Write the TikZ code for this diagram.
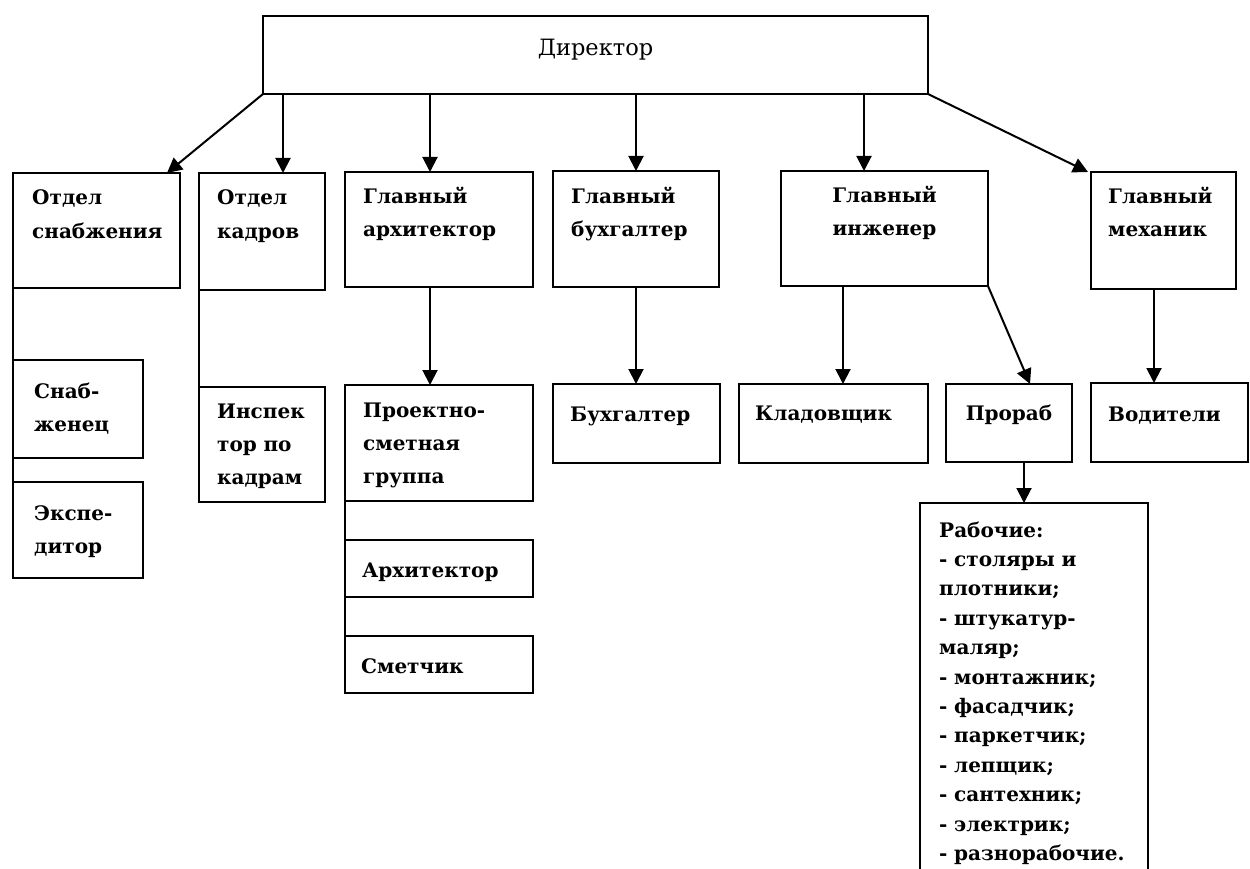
\documentclass[tikz,border=0pt]{standalone}
\usepackage{fontspec}
\setmainfont{DejaVu Serif}
\usetikzlibrary{arrows.meta}
\begin{document}
\begin{tikzpicture}[x=1pt,y=-1pt,
  box/.style={draw, line width=2.5pt, anchor=north west, inner sep=0pt, outer sep=0pt},
  arr/.style={line width=2pt, -{Triangle[length=15pt,width=15pt]}},
  ln/.style={line width=2.4pt},
  lbl/.style={anchor=base west, inner sep=0pt, align=left, text width=260pt, font=\fontsize{20}{33}\selectfont\bfseries},
  clbl/.style={anchor=base, inner sep=0pt, align=center, text width=200pt, font=\fontsize{20}{33}\selectfont\bfseries},
]
\useasboundingbox[fill=white] (0,0) rectangle (1250,869);

% boxes
\node[box, minimum width=665pt, minimum height=78pt] (dir) at (263,16) {};
\node[box, minimum width=167pt, minimum height=115pt] (snab) at (13,173) {};
\node[box, minimum width=126pt, minimum height=117pt] (kadr) at (199,173) {};
\node[box, minimum width=188pt, minimum height=115pt] (arch) at (345,172) {};
\node[box, minimum width=166pt, minimum height=116pt] (buh) at (553,171) {};
\node[box, minimum width=207pt, minimum height=115pt] (inzh) at (781,171) {};
\node[box, minimum width=145pt, minimum height=117pt] (mech) at (1091,172) {};

\node[box, minimum width=130pt, minimum height=98pt] (snabzh) at (13,360) {};
\node[box, minimum width=130pt, minimum height=96pt] (exped) at (13,482) {};
\node[box, minimum width=126pt, minimum height=115pt] (insp) at (199,387) {};
\node[box, minimum width=188pt, minimum height=116pt] (psg) at (345,385) {};
\node[box, minimum width=188pt, minimum height=57pt] (arh) at (345,540) {};
\node[box, minimum width=188pt, minimum height=57pt] (smet) at (345,636) {};
\node[box, minimum width=167pt, minimum height=79pt] (buhg) at (553,384) {};
\node[box, minimum width=189pt, minimum height=79pt] (klad) at (739,384) {};
\node[box, minimum width=126pt, minimum height=78pt] (prorab) at (946,384) {};
\node[box, minimum width=157pt, minimum height=79pt] (vod) at (1091,383) {};
\node[box, minimum width=228pt, minimum height=400pt] (rab) at (920,503) {};

% texts
\node[anchor=base, inner sep=0pt, font=\fontsize{22.5}{26}\selectfont] (dirT) at (595.5,56) {Директор};
\node[lbl] (snabT) at ([shift={(19pt,-32pt)}]snab.north west) {Отдел\\снабжения};
\node[lbl] (kadrT) at ([shift={(18pt,-32pt)}]kadr.north west) {Отдел\\кадров};
\node[lbl] (archT) at ([shift={(18pt,-32pt)}]arch.north west) {Главный\\архитектор};
\node[lbl] (buhT) at ([shift={(18pt,-33pt)}]buh.north west) {Главный\\бухгалтер};
\node[clbl] (inzhT) at ([yshift=-32pt]inzh.north) {Главный\\инженер};
\node[lbl] (mechT) at ([shift={(17pt,-32pt)}]mech.north west) {Главный\\механик};

\node[lbl] (snabzhT) at ([shift={(21pt,-38pt)}]snabzh.north west) {Снаб-\\женец};
\node[lbl] (expedT) at ([shift={(21pt,-38pt)}]exped.north west) {Экспе-\\дитор};
\node[lbl] (inspT) at ([shift={(18pt,-31pt)}]insp.north west) {Инспек\\тор по\\кадрам};
\node[lbl] (psgT) at ([shift={(18pt,-32pt)}]psg.north west) {Проектно-\\сметная\\группа};
\node[lbl] (arhT) at ([shift={(17pt,-37pt)}]arh.north west) {Архитектор};
\node[lbl] (smetT) at ([shift={(16pt,-37pt)}]smet.north west) {Сметчик};
\node[lbl] (buhgT) at ([shift={(17pt,-37pt)}]buhg.north west) {Бухгалтер};
\node[lbl] (kladT) at ([shift={(16pt,-36pt)}]klad.north west) {Кладовщик};
\node[clbl] (prorabT) at ([yshift=-36pt]prorab.north) {Прораб};
\node[lbl] (vodT) at ([shift={(17pt,-38pt)}]vod.north west) {Водители};
\node[lbl, font=\fontsize{20}{29.4}\selectfont\bfseries] (rabT) at ([shift={(19pt,-34pt)}]rab.north west)
  {Рабочие:\\- столяры и\\плотники;\\- штукатур-\\маляр;\\- монтажник;\\- фасадчик;\\- паркетчик;\\- лепщик;\\- сантехник;\\- электрик;\\- разнорабочие.};

% connectors from director
\coordinate (kadrIn) at ([xshift=21pt]kadr.north);
\coordinate (archIn) at ([xshift=-9pt]arch.north);
\coordinate (inzhIn) at ([xshift=-20.5pt]inzh.north);
\draw[arr] (dir.south west) -- ([xshift=-13pt]snab.north east);
\draw[arr] (kadrIn |- dir.south) -- (kadrIn);
\draw[arr] (archIn |- dir.south) -- (archIn);
\draw[arr] (buh.north |- dir.south) -- (buh.north);
\draw[arr] (inzhIn |- dir.south) -- (inzhIn);
\draw[arr] (dir.south east) -- ([xshift=-3pt]mech.north west);

% second level
\draw[arr] (archIn |- arch.south) -- (archIn |- psg.north);
\draw[arr] (buh.south) -- (buh.south |- buhg.north);
\coordinate (kladIn) at ([xshift=9.5pt]klad.north);
\draw[arr] (kladIn |- inzh.south) -- (kladIn);
\draw[arr] (inzh.south east) -- ([xshift=21pt]prorab.north);
\coordinate (vodIn) at ([xshift=-15.5pt]vod.north);
\draw[arr] (vodIn |- mech.south) -- (vodIn);
\coordinate (rabIn) at ([xshift=15pt]prorab.south);
\draw[arr] (rabIn) -- (rabIn |- rab.north);

% plain lines
\draw[ln] (snab.south west) -- (exped.north west);
\draw[ln] (kadr.south west) -- (insp.north west);
\draw[ln] (psg.south west) -- (arh.north west);
\draw[ln] (arh.south west) -- (smet.north west);
\end{tikzpicture}
\end{document}
